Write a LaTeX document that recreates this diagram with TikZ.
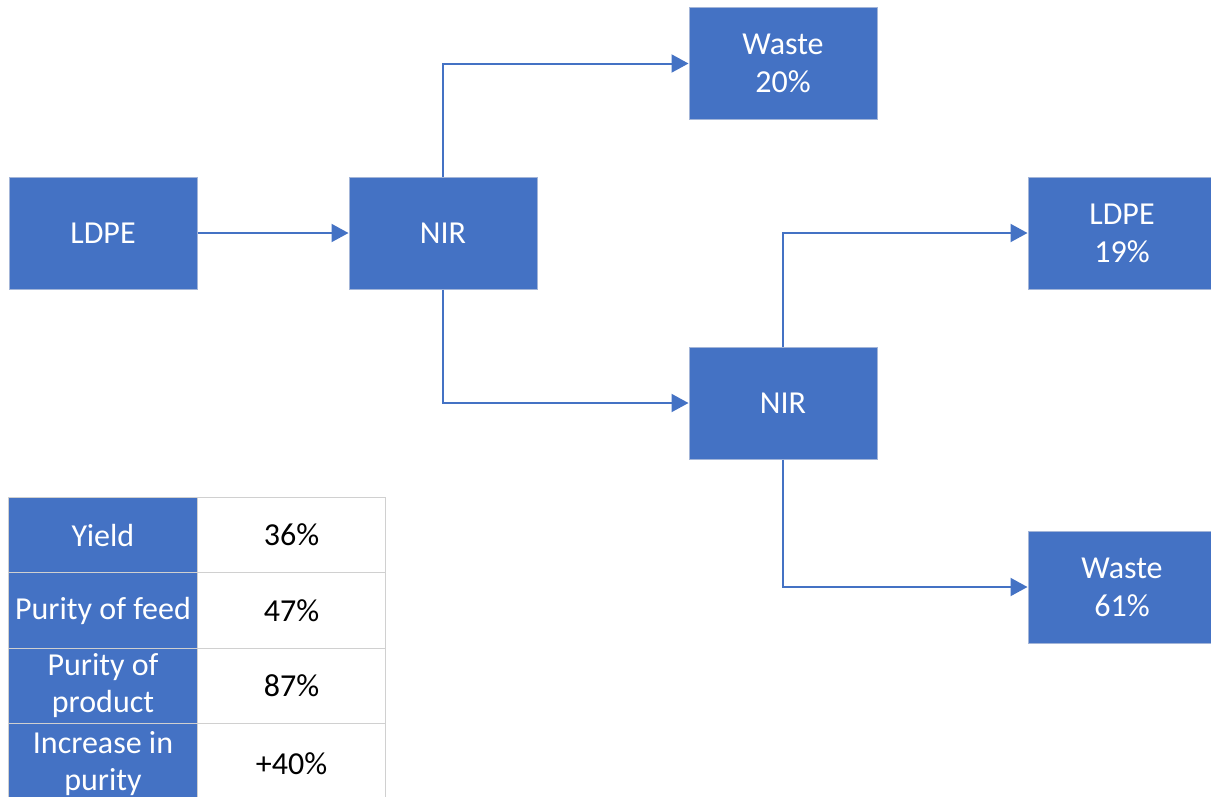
\documentclass[tikz,border=0pt]{standalone}
\usepackage{fontspec}
\setmainfont{Carlito}
\usetikzlibrary{arrows.meta}
\definecolor{boxblue}{HTML}{4472C4}
\definecolor{boxedge}{HTML}{A3B5D8}
\definecolor{gridgray}{HTML}{D0D0D0}
\begin{document}
\begin{tikzpicture}[x=1pt,y=-1pt,
  unit/.style={draw=boxedge, line width=1pt, fill=boxblue, text=white,
    minimum width=188pt, minimum height=112pt, inner sep=0pt, align=center,
    font=\fontsize{32}{38}\selectfont},
  flow/.style={draw=boxblue, line width=2pt, -{Triangle[length=17pt,width=18pt]}},
  cell/.style={draw=gridgray, line width=1pt, minimum width=188.5pt,
    minimum height=75.5pt, inner sep=0pt, align=center,
    font=\fontsize{32}{37}\selectfont},
  lastrow/.style={minimum height=79pt},
  key/.style={cell, fill=boxblue, text=white},
  val/.style={cell, fill=white, text=black}]
\useasboundingbox (0,0) rectangle (1211,796);
\clip (0,0) rectangle (1211,796);
\fill[white] (0,0) rectangle (1211,796);

% process units
\node[unit] (feed)   at (103,233)  {LDPE};
\node[unit] (nir1)   at (443,233)  {NIR};
\node[unit] (waste1) at (783,63.5) {Waste\\20\%};
\node[unit] (nir2)   at (783,403)  {NIR};
\node[unit] (prod)   at (1122,233) {LDPE\\19\%};
\node[unit] (waste2) at (1122,587) {Waste\\61\%};

% material flows
\draw[flow] (feed) -- (nir1);
\draw[flow] (nir1.north) |- (waste1.west);
\draw[flow] (nir1.south) |- (nir2.west);
\draw[flow] (nir2.north) |- (prod.west);
\draw[flow] (nir2.south) |- (waste2.west);

% summary table
\node[key] (k1) at (103,535)   {Yield};
\node[key] (k2) at (103,610.5) {Purity of feed};
\node[key] (k3) at (103,686)   {Purity of\\product};
\node[key,lastrow] (k4) at (103,763.25) {Increase in\\purity};
\node[val] (v1) at (291.5,535)   {36\%};
\node[val] (v2) at (291.5,610.5) {47\%};
\node[val] (v3) at (291.5,686)   {87\%};
\node[val,lastrow] (v4) at (291.5,763.25) {+40\%};
\end{tikzpicture}
\end{document}
